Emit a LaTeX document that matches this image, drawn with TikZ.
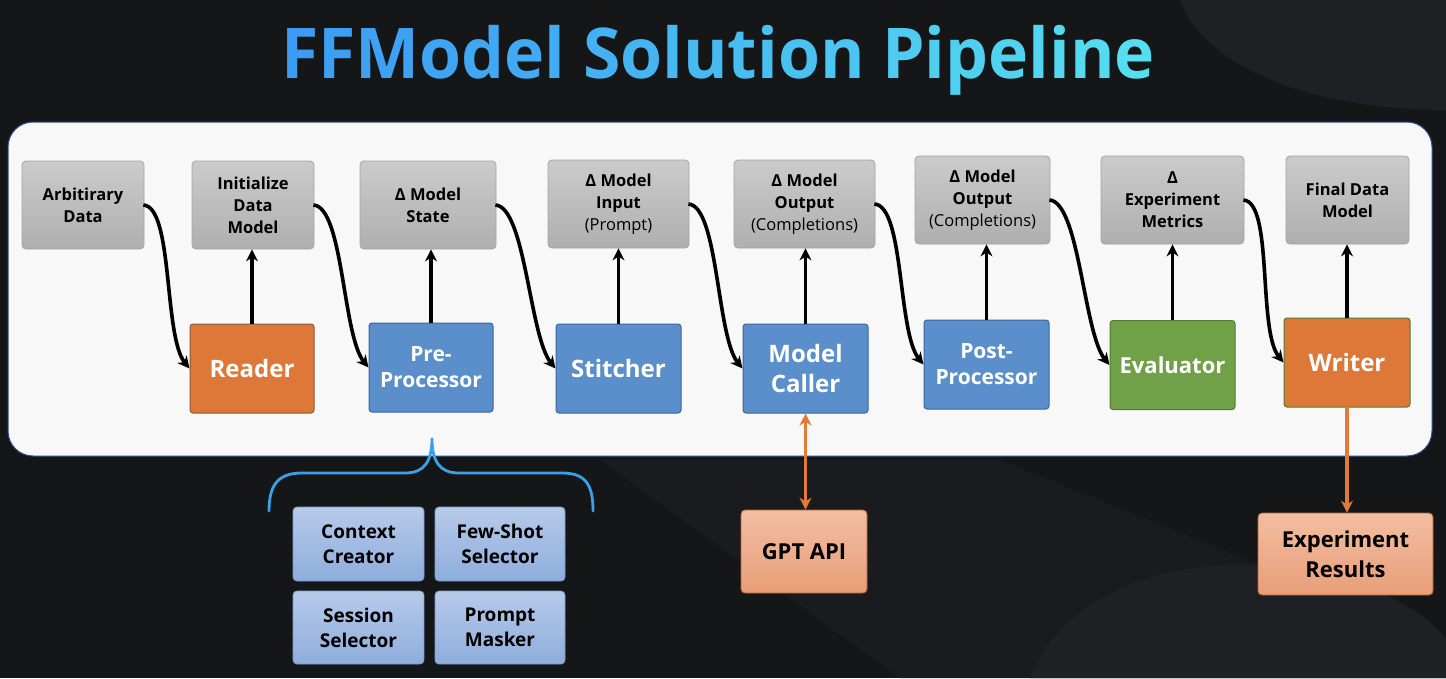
\documentclass[tikz,border=0pt]{standalone}
\usepackage{fontspec}
\setmainfont{Open Sans}
\usetikzlibrary{arrows.meta}
\definecolor{bgdark}{HTML}{151618}
\definecolor{bgshape}{HTML}{1F2023}
\definecolor{bgshapeb}{HTML}{1A1B1E}
\definecolor{panelfill}{HTML}{F8F8F8}
\definecolor{paneldraw}{HTML}{2A4A8A}
\definecolor{graytop}{HTML}{CBCBCB}
\definecolor{graybot}{HTML}{AFAFAF}
\definecolor{graydraw}{HTML}{A3A3A3}
\definecolor{orangefill}{HTML}{DD7838}
\definecolor{orangedraw}{HTML}{8A5A3A}
\definecolor{bluefill}{HTML}{5B8FCB}
\definecolor{bluedraw}{HTML}{3A669E}
\definecolor{greenfill}{HTML}{70A148}
\definecolor{greendraw}{HTML}{527A33}
\definecolor{subtop}{HTML}{B7CAEA}
\definecolor{subbot}{HTML}{8EADDC}
\definecolor{subdraw}{HTML}{7A9BCB}
\definecolor{salmtop}{HTML}{F2BEA2}
\definecolor{salmbot}{HTML}{E89E78}
\definecolor{salmdraw}{HTML}{B8602F}
\definecolor{arrorange}{HTML}{E07B39}
\definecolor{bracecol}{HTML}{3AA0E8}
\definecolor{tleft}{HTML}{3C9CF4}
\definecolor{tright}{HTML}{55DEEF}
\newcommand{\tcl}[2]{{\color{tright!#1!tleft}#2}}
\tikzset{
  databox/.style={rectangle, rounded corners=4pt, top color=graytop, bottom color=graybot,
    draw=graydraw, line width=0.8pt, align=center, inner sep=2pt,
    font=\fontsize{16.5}{22}\selectfont\bfseries, text=black},
  procbox/.style={rectangle, rounded corners=3pt, line width=1pt, align=center,
    minimum width=125pt, minimum height=89pt, text=white, inner sep=2pt},
  orangebox/.style={procbox, fill=orangefill, draw=orangedraw},
  bluebox/.style={procbox, fill=bluefill, draw=bluedraw},
  greenbox/.style={procbox, fill=greenfill, draw=greendraw},
  subbox/.style={rectangle, rounded corners=4pt, top color=subtop, bottom color=subbot,
    draw=subdraw, line width=0.8pt, align=center, minimum width=131pt, minimum height=74pt,
    font=\fontsize{19}{25}\selectfont\bfseries, text=black},
  salmbox/.style={rectangle, rounded corners=4pt, top color=salmtop, bottom color=salmbot,
    draw=salmdraw, line width=0.8pt, align=center,
    font=\fontsize{22}{30}\selectfont\bfseries, text=black},
  tip/.tip={Stealth[length=12pt,width=12pt]},
  flow/.style={line width=3.6pt, black, -tip},
  ext/.style={line width=3.2pt, arrorange},
}
\begin{document}
\begin{tikzpicture}[x=1pt,y=-1pt]
\useasboundingbox (0,0) rectangle (1446,678);
% background
\fill[bgdark] (0,0) rectangle (1446,678);
\fill[bgshape] (1446,0) -- (1180,0) .. controls (1200,60) and (1300,110) .. (1446,110) -- cycle;
\fill[bgshapeb] (600,460) -- (1000,460) -- (1446,640) -- (1446,678) -- (900,678) -- cycle;
\fill[bgshape] (1030,678) .. controls (1060,600) and (1150,565) .. (1240,565) .. controls (1330,565) and (1420,600) .. (1446,640) -- (1446,678) -- cycle;
% title
\node[anchor=base, inner sep=0pt, xscale=0.97, font=\fontsize{70}{80}\selectfont\bfseries] (title) at (718,78)
 {\tcl{0}{F}\tcl{4}{F}\tcl{8}{M}\tcl{12}{o}\tcl{17}{d}\tcl{21}{e}\tcl{25}{l} \tcl{33}{S}\tcl{37}{o}\tcl{42}{l}\tcl{46}{u}\tcl{50}{t}\tcl{54}{i}\tcl{58}{o}\tcl{62}{n} \tcl{71}{P}\tcl{75}{i}\tcl{79}{p}\tcl{83}{e}\tcl{87}{l}\tcl{92}{i}\tcl{96}{n}\tcl{100}{e}};
% panel
\filldraw[fill=panelfill, draw=paneldraw, line width=1pt, rounded corners=25pt] (8,122) rectangle (1432,456);
% top data boxes
\node[databox, minimum width=122pt, minimum height=88pt] (a1) at (83,205) {Arbitirary\\Data};
\node[databox, minimum width=122pt, minimum height=88pt] (a2) at (253,205) {Initialize\\Data\\Model};
\node[databox, minimum width=136pt, minimum height=88pt] (a3) at (428,205) {Δ Model\\State};
\node[databox, minimum width=141pt, minimum height=88pt] (a4) at (618.5,204) {Δ Model\\Input\\{\mdseries (Prompt)}};
\node[databox, minimum width=141pt, minimum height=88pt] (a5) at (804.5,204) {Δ Model\\Output\\{\mdseries (Completions)}};
\node[databox, minimum width=135pt, minimum height=88pt] (a6) at (982.5,200) {Δ Model\\Output\\{\mdseries (Completions)}};
\node[databox, minimum width=143pt, minimum height=88pt] (a7) at (1172.5,200) {Δ\\Experiment\\Metrics};
\node[databox, minimum width=123pt, minimum height=88pt] (a8) at (1347.5,200) {Final Data\\Model};
% processing boxes
\node[orangebox, minimum width=124pt, font=\fontsize{24}{28}\selectfont\bfseries] (b1) at (252,368.5) {Reader};
\node[bluebox, minimum width=124pt, font=\fontsize{21}{26}\selectfont\bfseries] (b2) at (431,367.5) {Pre-\\Processor};
\node[bluebox, font=\fontsize{24}{28}\selectfont\bfseries] (b3) at (618.5,368.5) {Stitcher};
\node[bluebox, font=\fontsize{24}{30}\selectfont\bfseries] (b4) at (805.5,368.5) {Model\\Caller};
\node[bluebox, font=\fontsize{21}{26}\selectfont\bfseries] (b5) at (986.5,364.5) {Post-\\Processor};
\node[greenbox, font=\fontsize{22}{28}\selectfont\bfseries] (b6) at (1172.5,365) {Evaluator};
\node[orangebox, minimum width=126pt, draw=greendraw, font=\fontsize{24}{28}\selectfont\bfseries] (b7) at (1347,362.5) {Writer};
% vertical arrows
\foreach \b/\a in {b1/a2, b2/a3, b3/a4, b4/a5, b5/a6, b6/a7, b7/a8}
  \draw[flow] (\b.north) -- (\b.north |- \a.south);
% curved arrows
\foreach \a/\b in {a1/b1, a2/b2, a3/b3, a4/b4, a5/b5, a6/b6, a7/b7}
  \draw[flow] ([xshift=-1pt]\a.east) .. controls +(30,2) and +(-26,-32) .. (\b.west);
% brace
\draw[bracecol, line width=2.8pt, line cap=round]
  (269,511) .. controls (269,485) and (278,473) .. (302,473) -- (405,473)
  .. controls (424,473) and (432,462) .. (432,438)
  .. controls (432,462) and (440,473) .. (459,473) -- (562,473)
  .. controls (586,473) and (593,485) .. (593,511);
% sub boxes
\node[subbox] (c1) at (358.5,544) {Context\\Creator};
\node[subbox, minimum width=130pt] (c2) at (500,544) {Few-Shot\\Selector};
\node[subbox, minimum height=73pt] (c3) at (358.5,627.5) {Session\\Selector};
\node[subbox, minimum width=130pt, minimum height=73pt] (c4) at (500,627.5) {Prompt\\Masker};
% external boxes
\node[salmbox, minimum width=126pt, minimum height=83pt] (g) at (804,551.5) {GPT API};
\node[salmbox, minimum width=175pt, minimum height=82pt] (r) at (1345.5,554) {Experiment\\Results};
\draw[ext, tip-tip] (b4.south) -- (b4.south |- g.north);
\draw[ext, -tip] (b7.south) -- (b7.south |- r.north);
\end{tikzpicture}
\end{document}
